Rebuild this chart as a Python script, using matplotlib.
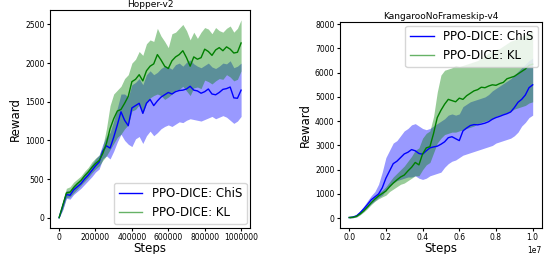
import numpy as np
import matplotlib
matplotlib.use('Agg')
import matplotlib.pyplot as plt

# Hopper-v2: steps every 20000
hopper_steps = np.arange(0, 1000001, 20000)
hopper_chis = [0, 150, 300, 290, 360, 400, 440, 500, 550, 610, 670, 720, 860, 930, 900, 1040,
               1200, 1370, 1260, 1190, 1420, 1450, 1480, 1350, 1480, 1530, 1450, 1510, 1560, 1590,
               1620, 1600, 1630, 1645, 1650, 1665, 1700, 1650, 1640, 1610, 1630, 1665, 1600, 1590,
               1620, 1660, 1670, 1690, 1550, 1545, 1650]
hopper_chis_hi = [20, 200, 350, 350, 420, 460, 510, 570, 620, 690, 760, 810, 950, 1050, 1100, 1250,
                  1420, 1600, 1600, 1560, 1720, 1750, 1800, 1720, 1850, 1900, 1850, 1880, 1930, 1960,
                  1950, 1920, 1980, 2000, 1960, 2010, 2040, 1990, 1960, 1940, 1970, 2000, 1950, 1930,
                  1960, 2000, 1990, 2030, 1940, 1960, 2000]
hopper_chis_lo = [0, 100, 250, 240, 300, 340, 380, 430, 480, 530, 590, 630, 760, 800, 760, 860,
                  980, 1080, 1000, 950, 920, 1020, 1050, 960, 1060, 1120, 1060, 1100, 1150, 1180,
                  1200, 1180, 1210, 1240, 1230, 1260, 1280, 1270, 1260, 1250, 1270, 1290, 1310, 1280,
                  1300, 1320, 1300, 1260, 1220, 1250, 1310]
hopper_kl = [0, 160, 320, 330, 390, 440, 480, 540, 590, 650, 700, 740, 830, 960, 1150, 1280,
             1380, 1400, 1480, 1570, 1760, 1790, 1850, 1770, 1900, 1960, 1990, 2110, 2040, 1960,
             1930, 2030, 2080, 2110, 2160, 2070, 1960, 2080, 2050, 2070, 2180, 2150, 2100, 2170,
             2200, 2160, 2210, 2180, 2130, 2140, 2260]
hopper_kl_hi = [20, 210, 380, 400, 460, 500, 540, 600, 650, 720, 770, 810, 920, 1150, 1450, 1600,
                1650, 1700, 1800, 1850, 2000, 2050, 2150, 2100, 2250, 2300, 2280, 2450, 2350, 2280,
                2200, 2380, 2400, 2450, 2500, 2420, 2300, 2400, 2320, 2400, 2460, 2440, 2380, 2460,
                2420, 2400, 2450, 2480, 2400, 2450, 2560]
hopper_kl_lo = [0, 110, 260, 270, 320, 370, 420, 470, 520, 580, 630, 670, 740, 800, 880, 960,
                1040, 1080, 1150, 1200, 1380, 1400, 1460, 1350, 1480, 1550, 1580, 1600, 1580, 1530,
                1560, 1600, 1650, 1660, 1700, 1640, 1580, 1680, 1690, 1670, 1780, 1760, 1730, 1770,
                1800, 1790, 1850, 1820, 1770, 1790, 1900]

# KangarooNoFrameskip-v4: steps every 200000
kang_steps = np.arange(0, 10000001, 200000)
kang_chis = [30, 50, 100, 230, 390, 570, 760, 880, 1000, 1250, 1650, 1950, 2250, 2350, 2500, 2650,
             2720, 2830, 2780, 2670, 2640, 2780, 2900, 2940, 2970, 3050, 3150, 3320, 3360, 3280,
             3200, 3600, 3720, 3820, 3860, 3850, 3880, 3920, 3980, 4080, 4150, 4200, 4260, 4310,
             4380, 4560, 4780, 4900, 5080, 5380, 5500]
kang_chis_hi = [60, 90, 160, 320, 500, 720, 930, 1100, 1400, 1900, 2500, 2800, 3100, 3200, 3400, 3600,
                3700, 3850, 3900, 3800, 3700, 3650, 3700, 3800, 3900, 4000, 4100, 4250, 4300, 4250,
                4300, 4600, 4700, 4800, 4850, 4900, 4950, 5000, 5100, 5250, 5350, 5450, 5550, 5650,
                5750, 5900, 6050, 6200, 6350, 6500, 6600]
kang_chis_lo = [0, 20, 60, 170, 300, 450, 600, 720, 850, 950, 1150, 1300, 1450, 1550, 1600, 1650,
                1700, 1700, 1750, 1650, 1600, 1650, 1750, 1800, 1850, 1900, 2100, 2250, 2350, 2400,
                2500, 2600, 2650, 2700, 2750, 2800, 2850, 2900, 2950, 3000, 3100, 3150, 3200, 3250,
                3300, 3400, 3550, 3800, 3950, 4150, 4250]
kang_kl = [30, 40, 80, 180, 310, 470, 640, 790, 920, 1020, 1120, 1300, 1450, 1580, 1700, 1780,
           1950, 2100, 2300, 2200, 2650, 2900, 2950, 3500, 4150, 4450, 4700, 4900, 4850, 4800,
           4950, 4900, 5050, 5150, 5250, 5300, 5400, 5380, 5450, 5500, 5480, 5550, 5600, 5750,
           5800, 5850, 5950, 6050, 6150, 6300, 6350]
kang_kl_hi = [50, 60, 110, 220, 360, 530, 720, 880, 1050, 1150, 1300, 1500, 1700, 1850, 2000, 2150,
              2350, 2550, 2800, 2900, 3300, 3500, 3600, 4200, 5200, 5900, 6100, 6150, 6200, 6300,
              6250, 6300, 6350, 6400, 6450, 6500, 6600, 6700, 6800, 6900, 6950, 7000, 7100, 7200,
              7300, 7350, 7400, 7500, 7550, 7650, 7700]
kang_kl_lo = [0, 20, 50, 140, 260, 400, 560, 700, 800, 880, 950, 1100, 1200, 1300, 1400, 1450,
              1550, 1650, 1750, 1750, 2000, 2200, 2300, 2700, 3100, 3300, 3450, 3500, 3550, 3550,
              3600, 3650, 3700, 3750, 3800, 3900, 3950, 4000, 4050, 4100, 4200, 4250, 4300, 4350,
              4400, 4500, 4550, 4600, 4650, 4750, 4800]

labels = ['PPO-DICE: ChiS', 'PPO-DICE: KL']


def plot_env(ax, steps, curves, title, legend_loc):
    for (mean, lo, hi), color, label in zip(curves, ['blue', 'green'], labels):
        ax.fill_between(steps, lo, hi, color=color, alpha=0.4, linewidth=0)
        ax.plot(steps, mean, color=color, linewidth=1, label=label)
    ax.set_title(title, fontsize=6.5, pad=2)
    ax.set_xlabel('Steps', fontsize=8.5, labelpad=0)
    ax.set_ylabel('Reward', fontsize=8.5, labelpad=2)
    ax.tick_params(labelsize=5.5, length=2.5, pad=1.5)
    leg = ax.legend(loc=legend_loc, fontsize=8.5, borderaxespad=0.3)
    leg.get_lines()[1].set_alpha(0.6)


fig = plt.figure(figsize=(5.47, 2.54), dpi=100)
ax1 = fig.add_axes([0.0914, 0.104, 0.366, 0.857])
ax2 = fig.add_axes([0.6216, 0.104, 0.369, 0.809])

plot_env(ax1, hopper_steps,
         [(hopper_chis, hopper_chis_lo, hopper_chis_hi), (hopper_kl, hopper_kl_lo, hopper_kl_hi)],
         'Hopper-v2', 'lower right')
ax1.ticklabel_format(axis='x', style='plain')
ax1.set_xticks([0, 200000, 400000, 600000, 800000, 1000000])

plot_env(ax2, kang_steps,
         [(kang_chis, kang_chis_lo, kang_chis_hi), (kang_kl, kang_kl_lo, kang_kl_hi)],
         'KangarooNoFrameskip-v4', 'upper right')
ax2.xaxis.get_offset_text().set_fontsize(5.5)

fig.savefig('out.png', dpi=100)
